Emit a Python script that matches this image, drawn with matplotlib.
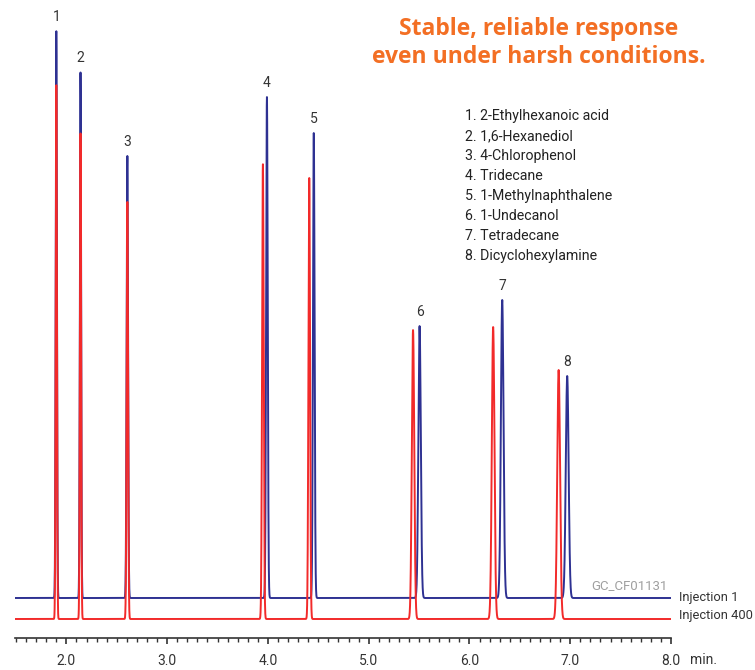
import numpy as np
import matplotlib
matplotlib.use("Agg")
import matplotlib.pyplot as plt
from matplotlib.ticker import MultipleLocator

# peak list (retention time in min, height above baseline)
peak_labels = ["1", "2", "3", "4", "5", "6", "7", "8"]
compounds = ["2-Ethylhexanoic acid", "1,6-Hexanediol", "4-Chlorophenol", "Tridecane",
             "1-Methylnaphthalene", "1-Undecanol", "Tetradecane", "Dicyclohexylamine"]

rt_inj1 = [1.90, 2.14, 2.605, 3.99, 4.455, 5.505, 6.325, 6.97]
h_inj1 = [567, 526, 442, 501, 465, 272, 298, 222]
w_inj1 = [0.006, 0.006, 0.007, 0.008, 0.008, 0.012, 0.013, 0.014]

rt_inj400 = [1.90, 2.14, 2.605, 3.95, 4.41, 5.44, 6.235, 6.885]
h_inj400 = [534, 486, 417, 455, 441, 289, 292, 249]
w_inj400 = [0.006, 0.006, 0.007, 0.008, 0.008, 0.012, 0.013, 0.014]

base_inj1 = 40
base_inj400 = 19

t = np.linspace(1.49, 8.0, 8000)


def trace(rts, hs, ws, base):
    y = np.full_like(t, base, dtype=float)
    for r, h, w in zip(rts, hs, ws):
        y += h * np.exp(-0.5 * ((t - r) / w) ** 2)
    return y


y1 = trace(rt_inj1, h_inj1, w_inj1, base_inj1)
y400 = trace(rt_inj400, h_inj400, w_inj400, base_inj400)

fig = plt.figure(figsize=(7.55, 6.70), dpi=100)
ax = fig.add_axes([15 / 755, 32 / 670, 656 / 755, 638 / 670])
ax.set_xlim(1.49, 8.0)
ax.set_ylim(0, 638)

ax.plot(t, y1, color="#2e3192", lw=1.4, zorder=2)
ax.plot(t, y400, color="#f22a2a", lw=1.4, zorder=3)

txt = "#333333"
fnt = ["Roboto", "DejaVu Sans"]

# peak numbers above the injection 1 peaks
for lab, r, h in zip(peak_labels, rt_inj1, h_inj1):
    ax.text(r, base_inj1 + h + 7, lab, ha="center", va="bottom", fontsize=10,
            color=txt, family=fnt)

# compound list
for i, (lab, c) in enumerate(zip(peak_labels, compounds)):
    fig.text(465 / 755, 1 - (116 + 20 * i) / 670, f"{lab}. {c}", ha="left", va="center",
             fontsize=10.2, color="#222222", family=fnt)

fig.text(539 / 755, 1 - 43 / 670, "Stable, reliable response\neven under harsh conditions.",
         ha="center", va="center", fontsize=16.5, fontweight="bold", color="#f36f24",
         family=["Open Sans", "DejaVu Sans"], linespacing=1.2)

ax.text(7.97, 52, "GC_CF01131", ha="right", va="center", fontsize=9.5, color="#a0a0a0",
        family=fnt)
fig.text(679 / 755, 1 - 597 / 670, "Injection 1", ha="left", va="center", fontsize=9.3,
         color=txt, family=fnt)
fig.text(679 / 755, 1 - 616 / 670, "Injection 400", ha="left", va="center", fontsize=9.3,
         color=txt, family=fnt)
fig.text(690 / 755, 1 - 660 / 670, "min.", ha="left", va="center", fontsize=10,
         color=txt, family=fnt)

for s in ["top", "left", "right"]:
    ax.spines[s].set_visible(False)
ax.spines["bottom"].set_color(txt)
ax.spines["bottom"].set_linewidth(1.2)
ax.set_yticks([])
ax.xaxis.set_minor_locator(MultipleLocator(0.1))
ax.set_xticks(np.arange(2.0, 8.01, 1.0))
ax.set_xticklabels([f"{v:.1f}" for v in np.arange(2.0, 8.01, 1.0)], family=fnt)
ax.tick_params(axis="x", which="major", length=4.5, width=1.2, color=txt, labelsize=10,
               labelcolor=txt, pad=7)
ax.tick_params(axis="x", which="minor", length=3, width=1.0, color=txt)

fig.savefig("out.png", dpi=100)
